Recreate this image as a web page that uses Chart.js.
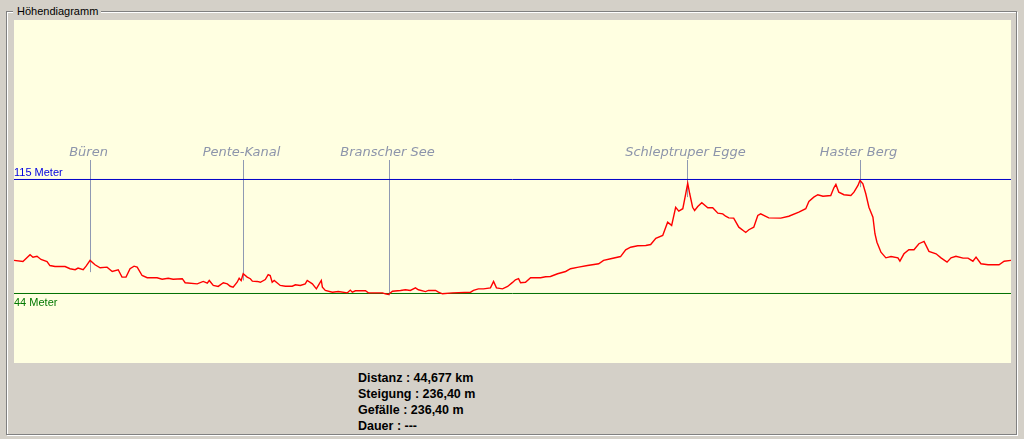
<!DOCTYPE html>
<html>
<head>
<meta charset="utf-8">
<script src="https://cdn.jsdelivr.net/npm/chart.js@4/dist/chart.umd.min.js"></script>
<style>
  body { margin: 0; width: 1024px; height: 439px; background: #d4d0c8; position: relative; overflow: hidden; font-family: "Liberation Sans", Arial, sans-serif; }
  .frame { position: absolute; box-sizing: border-box; width: 1011px; height: 424px; }
  #frameLight { left: 7px; top: 12px; border: 1px solid #ffffff; }
  #frameDark { left: 6px; top: 11px; border: 1px solid #808080; }
  #title { position: absolute; left: 13px; top: 4px; padding: 0 3px 0 4px; background: #d4d0c8; font-size: 11px; line-height: 14px; color: #000; }
  #chartBox { position: absolute; left: 14px; top: 20px; width: 997px; height: 343px; }
  #stats { position: absolute; left: 358px; top: 370px; font-weight: bold; font-size: 12.5px; line-height: 16px; color: #000; }
</style>
</head>
<body>
<div class="frame" id="frameLight"></div>
<div class="frame" id="frameDark"></div>
<div id="title">Höhendiagramm</div>
<div id="chartBox"><canvas id="profile" width="997" height="343"></canvas></div>
<div id="stats">
  <div>Distanz : 44,677 km</div>
  <div>Steigung : 236,40 m</div>
  <div>Gefälle : 236,40 m</div>
  <div>Dauer : ---</div>
</div>
<script>
// distance (km) and elevation (m)
const distKm = [0, 0.40, 0.72, 0.85, 1.03, 1.21, 1.48, 1.61, 1.84, 2.29, 2.51, 2.74, 2.87, 3.10, 3.23, 3.41, 3.63, 3.86, 4.17, 4.40,
  4.67, 4.84, 5.02, 5.20, 5.38, 5.52, 5.74, 5.97, 6.41, 6.64, 6.91, 7.13, 7.54, 7.67, 8.21, 8.48, 8.66, 8.75, 8.93, 9.15,
  9.38, 9.56, 9.69, 9.82, 10.00, 10.09, 10.18, 10.27, 10.45, 10.59, 10.68, 10.90, 11.04, 11.26, 11.39, 11.48, 11.57, 11.66, 11.93, 12.16,
  12.47, 12.61, 12.83, 13.05, 13.14, 13.37, 13.55, 13.64, 13.77, 13.82, 13.95, 14.27, 14.53, 14.94, 15.07, 15.16, 15.30, 15.75, 15.88, 16.51,
  16.64, 16.78, 16.96, 17.32, 17.54, 17.76, 17.99, 18.12, 18.44, 18.57, 18.89, 19.02, 19.20, 19.65, 20.46, 20.59, 20.81, 21.04, 21.35, 21.49,
  21.62, 21.89, 22.12, 22.34, 22.47, 22.61, 22.70, 22.92, 23.15, 23.60, 23.82, 24.04, 24.36, 24.72, 24.94, 25.30, 25.70, 26.20, 26.42, 26.74,
  27.18, 27.41, 27.63, 27.95, 28.31, 28.53, 28.76, 29.07, 29.29, 29.47, 29.65, 29.79, 29.97, 30.10, 30.19, 30.28, 30.41, 30.50, 30.64, 30.82,
  31.09, 31.31, 31.54, 31.76, 31.89, 32.03, 32.25, 32.48, 32.79, 32.93, 33.15, 33.33, 33.46, 33.82, 34.36, 34.72, 35.17, 35.48, 35.62, 35.84,
  36.02, 36.25, 36.60, 36.74, 36.83, 36.96, 37.19, 37.50, 37.64, 37.82, 37.91, 38.04, 38.17, 38.31, 38.49, 38.58, 38.67, 38.85, 39.07, 39.30,
  39.61, 39.70, 39.88, 40.10, 40.33, 40.55, 40.78, 41.00, 41.32, 41.54, 41.81, 41.99, 42.21, 42.53, 42.75, 42.97, 43.11, 43.33, 43.65, 44.14,
  44.37, 44.68];
const elevM = [64.6, 63.9, 68.1, 66.6, 67.2, 65.2, 63.9, 61.4, 60.8, 60.8, 59.4, 58.8, 59.8, 58.8, 61.0, 64.6, 61.9, 60.0, 60.4, 57.7,
  58.8, 54.2, 54.2, 59.4, 61.0, 60.4, 55.2, 53.8, 53.8, 52.9, 53.5, 52.9, 53.2, 50.7, 50.0, 51.5, 50.4, 52.1, 49.0, 48.4,
  50.7, 50.0, 48.5, 47.9, 51.0, 53.5, 52.1, 56.3, 54.2, 53.2, 51.7, 51.5, 51.0, 52.7, 55.8, 55.2, 51.0, 52.1, 49.0, 48.5,
  48.5, 49.4, 49.0, 50.0, 52.1, 50.0, 46.9, 49.0, 52.1, 47.9, 45.9, 44.8, 45.2, 44.4, 46.1, 44.8, 45.7, 45.7, 44.4, 44.4,
  43.8, 43.4, 45.4, 45.9, 46.3, 45.9, 47.5, 46.3, 45.2, 45.9, 45.9, 44.8, 43.8, 44.4, 44.8, 45.9, 46.9, 46.9, 47.5, 51.5,
  47.5, 46.9, 48.4, 50.9, 52.5, 53.2, 50.7, 51.0, 53.8, 53.8, 54.4, 54.6, 56.3, 57.7, 59.4, 60.4, 61.4, 62.5, 64.6, 65.6,
  67.0, 71.2, 72.8, 73.7, 73.9, 74.5, 78.4, 80.1, 88.4, 86.4, 97.7, 95.3, 96.8, 106.1, 112.7, 106.1, 97.7, 95.7, 98.2, 100.5,
  97.4, 97.4, 94.0, 93.6, 92.1, 91.1, 90.9, 85.3, 82.0, 83.7, 85.3, 92.6, 93.6, 91.1, 90.9, 92.1, 94.6, 96.8, 101.3, 104.0,
  105.5, 104.6, 105.0, 109.8, 111.9, 107.1, 105.5, 105.0, 107.1, 111.3, 114.4, 112.3, 106.1, 97.7, 91.5, 81.2, 75.9, 69.7, 66.2, 67.0,
  66.2, 64.1, 68.7, 71.2, 71.2, 75.0, 76.4, 70.2, 68.7, 66.2, 63.5, 66.2, 67.2, 66.0, 66.0, 64.1, 66.6, 62.5, 61.9, 61.9,
  64.1, 64.6];

// waypoints
const landmarkNames = ['Büren', 'Pente-Kanal', 'Branscher See', 'Schleptruper Egge', 'Haster Berg'];
const landmarkKm = [3.41, 10.24, 16.79, 30.18, 37.92];
const landmarkElev = [57.3, 52.1, 42.8, 104.0, 110.2];

// max / min reference lines
const refLabels = ['115 Meter', '44 Meter'];
const refValues = [115, 44];
const totalKm = 44.677;

const points = distKm.map((d, i) => ({ x: d, y: elevM[i] }));

const bgPlugin = {
  id: 'bg',
  beforeDraw(chart) {
    const c = chart.ctx;
    c.save();
    c.fillStyle = '#ffffe1';
    c.fillRect(0, 0, chart.width, chart.height);
    c.restore();
  }
};

const markPlugin = {
  id: 'marks',
  beforeDatasetsDraw(chart) {
    const c = chart.ctx, xs = chart.scales.x, ys = chart.scales.y;
    const top = Math.round(ys.getPixelForValue(refValues[0])) - 19;
    c.save();
    c.strokeStyle = '#8f99b3';
    c.lineWidth = 1;
    c.fillStyle = '#8d95ab';
    c.font = 'italic 13px "DejaVu Sans"';
    c.textAlign = 'center';
    c.textBaseline = 'alphabetic';
    landmarkNames.forEach((name, i) => {
      const x = Math.round(xs.getPixelForValue(landmarkKm[i])) + 0.5;
      c.beginPath();
      c.moveTo(x, top);
      c.lineTo(x, ys.getPixelForValue(landmarkElev[i]));
      c.stroke();
      c.fillText(name, x - 2, top - 4);
    });
    c.restore();
  },
  afterDatasetsDraw(chart) {
    const c = chart.ctx, ys = chart.scales.y;
    c.save();
    c.font = '11px "Liberation Sans"';
    c.textAlign = 'left';
    c.fillStyle = '#0000e0';
    c.fillText(refLabels[0], 0, Math.round(ys.getPixelForValue(refValues[0])) - 3);
    c.fillStyle = '#007800';
    c.fillText(refLabels[1], 0, Math.round(ys.getPixelForValue(refValues[1])) + 13);
    c.restore();
  }
};

new Chart(document.getElementById('profile'), {
  type: 'line',
  data: {
    datasets: [
      {
        label: 'Höhe',
        data: points,
        borderColor: '#ff0000',
        borderWidth: 1.4,
        pointRadius: 0,
        tension: 0,
      },
      {
        label: refLabels[0],
        data: [{ x: 0, y: refValues[0] }, { x: totalKm, y: refValues[0] }],
        borderColor: '#0000c8',
        borderWidth: 1,
        pointRadius: 0,
      },
      {
        label: refLabels[1],
        data: [{ x: 0, y: refValues[1] }, { x: totalKm, y: refValues[1] }],
        borderColor: '#007000',
        borderWidth: 1,
        pointRadius: 0,
      },
    ],
  },
  options: {
    responsive: false,
    animation: false,
    layout: { padding: 0 },
    scales: {
      x: { type: 'linear', min: 0, max: totalKm, display: false },
      y: { min: 0.71, max: 214.31, display: false },
    },
    plugins: {
      legend: { display: false },
      tooltip: { enabled: false },
    },
  },
  plugins: [bgPlugin, markPlugin],
});
</script>
</body>
</html>
